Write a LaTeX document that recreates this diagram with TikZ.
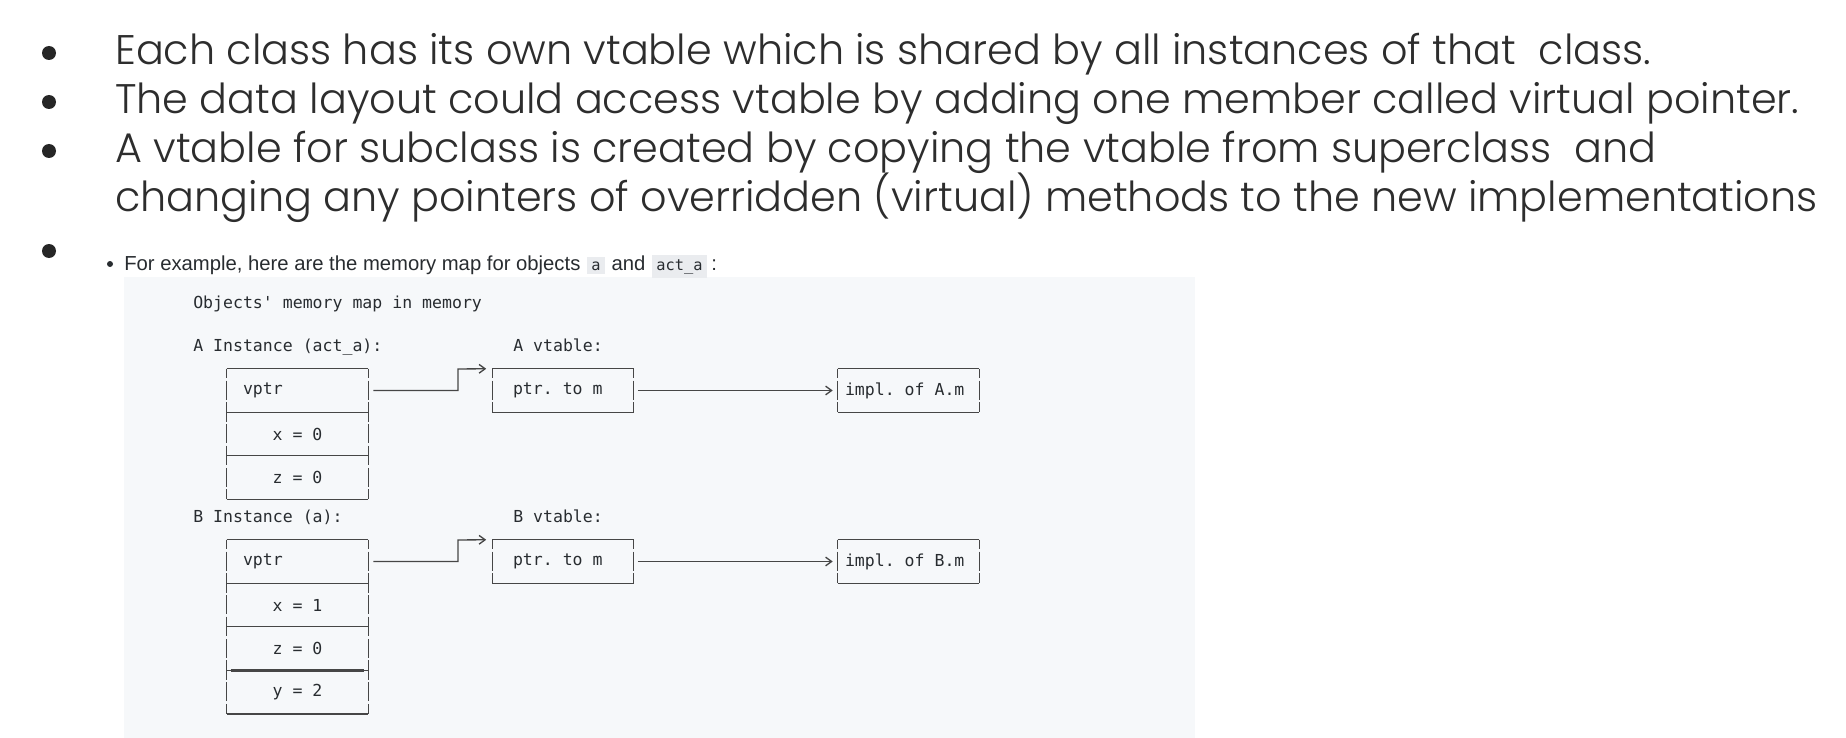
\documentclass[tikz,border=0pt]{standalone}
\usepackage{fontspec}
\usetikzlibrary{positioning,arrows.meta}
\newfontfamily\slidefont{Poppins Light}
\newfontfamily\uifont{Liberation Sans}
\newfontfamily\codefont{DejaVu Sans Mono}
\frenchspacing
\definecolor{slidetext}{RGB}{45,45,45}
\definecolor{panelbg}{RGB}{246,248,250}
\definecolor{codebg}{RGB}{234,236,239}
\definecolor{inktext}{RGB}{40,44,48}
\definecolor{ruleink}{RGB}{70,70,70}
\newcommand\inlinecode[1]{{\setlength{\fboxsep}{3pt}\hspace{1pt}\colorbox{codebg}{\codefont\fontsize{11.5}{13}\selectfont #1}\hspace{1pt}}}
\newcommand\asciibox[1]{%
  \draw[hrule] (#1.north west) -- (#1.north east);
  \draw[hrule] (#1.south west) -- (#1.south east);
  \draw[vbar] (#1.north west) -- (#1.south west);
  \draw[vbar] (#1.north east) -- (#1.south east);}
\tikzset{
  slideline/.style={anchor=base west, inner sep=0pt, font=\slidefont\fontsize{31}{36}\selectfont, text=slidetext},
  dotbullet/.style={circle, fill=black!85, minimum size=10.5pt, inner sep=0pt},
  codelabel/.style={anchor=base west, inner sep=0pt, font=\codefont\fontsize{12.4}{15}\selectfont, text=inktext},
  cell/.style={minimum width=105.75pt, minimum height=32.25pt, inner sep=0pt, font=\codefont\fontsize{12.4}{15}\selectfont, text=inktext},
  leftcell/.style 2 args={cell, align=left, inner xsep=#1, text width=#2,
    execute at begin node={\spaceskip=0pt\xspaceskip=0pt\relax}},
  hrule/.style={draw=ruleink, line width=1pt},
  vbar/.style={draw=ruleink, line width=1pt, dash pattern=on 14.2pt off 1.9pt, dash phase=7.1pt},
  link/.style={draw=ruleink, line width=1pt, -{Straight Barb[length=4.5pt,width=6.5pt]}},
}
\begin{document}
\begin{tikzpicture}[x=0.75pt,y=0.75pt,yscale=-1,xscale=1]
\useasboundingbox[fill=white] (0,0) rectangle (1846,738);

%Slide bullets
\node[dotbullet] (bul1) at (49,53) {};
\node[dotbullet] (bul2) at (49,102) {};
\node[dotbullet] (bul3) at (49,151) {};
\node[dotbullet] (bul4) at (49,251) {};
\node[slideline] (line1) at (115,65) {Each class has its own vtable which is shared by all instances of that\ \ class.};
\node[slideline] (line2) at (115,114) {The data layout could access vtable by adding one member called virtual pointer.};
\node[slideline] (line3) at (115,163) {A vtable for subclass is created by copying the vtable from superclass\ \ and};
\node[slideline] (line4) at (115,212) {changing any pointers of overridden (virtual) methods to the new implementations};

%Screenshot of the example
\fill[panelbg] (124,277) rectangle (1195,738);
\node[circle, fill=inktext, minimum size=4.5pt, inner sep=0pt] (smallbul) at (110,264) {};
\node[anchor=base west, inner sep=0pt, text=inktext, font=\uifont\fontsize{15.2}{18}\selectfont] (intro) at (124,270)
  {For example, here are the memory map for objects \inlinecode{a} and \inlinecode{act\_a}\,:};

%Labels
\node[codelabel] (title) at (193,308) {Objects' memory map in memory};
\node[codelabel] (aInst) at (193,351) {A Instance (act\_a):};
\node[codelabel] (aTab) at (513,351) {A vtable:};
\node[codelabel] (bInst) at (193,522) {B Instance (a):};
\node[codelabel] (bTab) at (513,522) {B vtable:};

%A instance and its vtable
\node[leftcell={12pt}{81.75pt}] (aVptr) at (297.5,390.5) {vptr};
\node[cell, below=0pt of aVptr] (aX) {x = 0};
\node[cell, below=0pt of aX] (aZ) {z = 0};
\node[leftcell={12pt}{75pt}] (aPtr) at (563,390.5) {ptr. to m};
\node[leftcell={5.25pt}{95.25pt}] (aImpl) at (908.5,390.5) {impl. of A.m};

%B instance and its vtable
\node[leftcell={12pt}{81.75pt}] (bVptr) at (297.5,561.5) {vptr};
\node[cell, below=0pt of bVptr] (bX) {x = 1};
\node[cell, below=0pt of bX] (bZ) {z = 0};
\node[cell, below=0pt of bZ] (bY) {y = 2};
\node[leftcell={12pt}{75pt}] (bPtr) at (563,561.5) {ptr. to m};
\node[leftcell={5.25pt}{95.25pt}] (bImpl) at (908.5,561.5) {impl. of B.m};

%Box outlines
\foreach \c in {aVptr,aX,aZ,aPtr,aImpl,bVptr,bX,bZ,bY,bPtr,bImpl}
  \asciibox{\c};
\draw[ruleink, line width=2pt] ([xshift=3pt]bZ.south west) -- ([xshift=-3pt]bZ.south east);

%Pointers
\coordinate (aBend) at (458,369);
\coordinate (bBend) at (458,540);
\draw[link] ([xshift=3.75pt]aVptr.east) -| (aBend) -- ([xshift=-4.5pt]aPtr.north west);
\draw[link] ([xshift=3pt]aPtr.east) -- ([xshift=-3.75pt]aImpl.west);
\draw[link] ([xshift=3.75pt]bVptr.east) -| (bBend) -- ([xshift=-4.5pt]bPtr.north west);
\draw[link] ([xshift=3pt]bPtr.east) -- ([xshift=-3.75pt]bImpl.west);

\end{tikzpicture}
\end{document}
